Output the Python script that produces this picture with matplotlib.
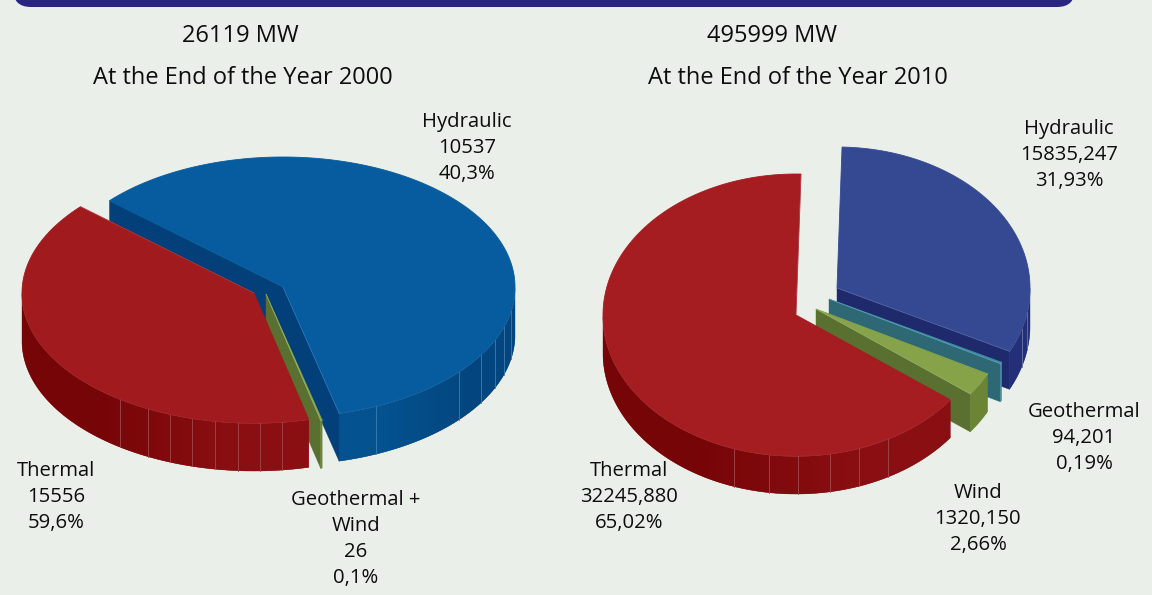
import numpy as np
import matplotlib.pyplot as plt
from matplotlib.colors import to_rgb
from matplotlib.patches import FancyBboxPatch

plt.rcParams['font.family'] = ['Open Sans', 'DejaVu Sans']

# 図の中の値 (描画順: 青 -> 緑 -> 赤, 2000年は元図の通りラベルと色が逆)
values_2000 = [15556, 26, 10537]
values_2010 = [15835.247, 94.201, 1320.150, 32245.880]

title_2000 = ["26119 MW", "At the End of the Year 2000"]
title_2010 = ["495999 MW", "At the End of the Year 2010"]

labels_2000 = ["Hydraulic\n10537\n40,3%", "Thermal\n15556\n59,6%", "Geothermal +\nWind\n26\n0,1%"]
labels_2010 = ["Hydraulic\n15835,247\n31,93%", "Thermal\n32245,880\n65,02%", "Wind\n1320,150\n2,66%", "Geothermal\n94,201\n0,19%"]

BG = "#eaefea"
BAND = "#2a2580"
RIM = "#ffffff"
TXT = "#0d0d0d"


def ell(cx, cy, rx, ry, deg):
    t = np.radians(deg)
    return cx + rx * np.cos(t), cy - ry * np.sin(t)


def draw_slice(ax, cx, cy, rx, ry, depth, a0, a1, top, side, cut, facets, facet_col):
    # a0 -> a1 は時計回り (a0 > a1)
    ts = np.linspace(a0, a1, 240)
    xs, ys = ell(cx, cy, rx, ry, ts)

    # 切り口 (見える面だけ)
    if np.cos(np.radians(a0)) < 0:
        ax.fill([cx, xs[0], xs[0], cx], [cy, ys[0], ys[0] + depth, cy + depth], color=cut, lw=0.3, zorder=2)
    if np.cos(np.radians(a1)) > 0.1:
        ax.fill([cx, xs[-1], xs[-1], cx], [cy, ys[-1], ys[-1] + depth, cy + depth], color=cut, lw=0.3, zorder=2)

    # 外周の側面 (手前側のみ), 左右で少し色を変える
    low = np.sin(np.radians(ts)) <= 0
    if low.any():
        lx, ly = xs[low], ys[low]
        poly = ax.fill(np.r_[lx, lx[::-1]], np.r_[ly, ly[::-1] + depth], color=side[1], lw=0.3, zorder=2)[0]
        grad = np.array([[to_rgb(side[0]), to_rgb(side[1])]])
        im = ax.imshow(grad, extent=(lx.min(), lx.max(), ly.max() + depth, ly.min()), aspect="auto",
                       interpolation="bilinear", zorder=2)
        im.set_clip_path(poly)
        for f in facets:
            if a1 <= f <= a0 or a1 <= f - 360 <= a0:
                fa = f if a1 <= f <= a0 else f - 360
                fx, fy = ell(cx, cy, rx, ry, fa)
                ax.plot([fx, fx], [fy, fy + depth], color=facet_col, lw=0.6, zorder=2)
        ax.plot(lx, ly, color=RIM, lw=0.7, alpha=0.35, zorder=2)

    # 上面
    ax.fill(np.r_[cx, xs], np.r_[cy, ys], fc=top, ec=top, lw=0.6, zorder=2)
    ax.plot([cx, xs[-1]], [cy, ys[-1]], color=RIM, lw=0.4, alpha=0.2, zorder=2)


def draw_pie(ax, values, start, center, radii, depth, explode, styles):
    total = sum(values)
    a0 = start
    for v, off, st in zip(values, explode, styles):
        a1 = a0 - v / total * 360
        draw_slice(ax, center[0] + off[0], center[1] + off[1], radii[0], radii[1], depth, a0, a1, *st)
        a0 = a1


fig = plt.figure(figsize=(11.52, 5.95), dpi=100, facecolor=BG)
ax = fig.add_axes([0, 0, 1, 1])

# 上の帯
ax.add_patch(FancyBboxPatch((13, -40), 1062, 47, boxstyle="round,pad=0,rounding_size=18", fc=BAND, ec="none"))

facet_blue = [-66.4, -40.6, -31.5, -24, -17.7, -10.6]
facet_red = [-83, -88.5, -94, -99.7, -105.6, -111.3, -117.3, -125.4]
styles_2000 = [
    ("#075ca0", ("#04528f", "#03467f"), "#03407a", facet_blue, "#3f7cae"),
    ("#86a34a", ("#6c8535", "#6c8535"), "#5a7030", [], "#a0b070"),
    ("#a01a1e", ("#760507", "#8a0f13"), "#8a0f13", facet_red, "#a0494c"),
]
draw_pie(ax, values_2000, 138.4, (268, 290), (232, 130), 48,
         [(15, -3), (-2, 4), (-14, 3)], styles_2000)

facet_blue2 = [-17, -10]
facet_red2 = [-61.5, -71, -80, -89.4, -98, -108.7]
styles_2010 = [
    ("#354993", ("#232f78", "#232f78"), "#1f2a6c", facet_blue2, "#6a76a8"),
    ("#3d8fa3", ("#4d8fa0", "#4d8fa0"), "#2d6874", [], "#80b0c0"),
    ("#86a34a", ("#6c8535", "#6c8535"), "#5a7030", [], "#a0b070"),
    ("#a51c21", ("#760507", "#8a0f13"), "#8a0f13", facet_red2, "#a0494c"),
]
draw_pie(ax, values_2010, 88.5, (797, 317), (193, 141), 38,
         [(40, -29), (32, -18), (19, -8), (-1, -2)], styles_2010)

ax.set_xlim(0, 1152)
ax.set_ylim(595, 0)
ax.axis("off")

# 文字
fs = 14.6
tfs = 17
ax.text(240, 36, title_2000[0], ha="center", va="center", fontsize=tfs, color=TXT)
ax.text(243, 78, title_2000[1], ha="center", va="center", fontsize=tfs, color=TXT)
ax.text(772, 36, title_2010[0], ha="center", va="center", fontsize=tfs, color=TXT)
ax.text(798, 78, title_2010[1], ha="center", va="center", fontsize=tfs, color=TXT)

for (x, y), s in zip([(467, 148), (56, 497), (356, 539)], labels_2000):
    ax.text(x, y, s, ha="center", va="center", fontsize=fs, color=TXT, linespacing=1.4)
for (x, y), s in zip([(1069, 155), (629, 497), (978, 519), (1084, 438)], labels_2010):
    ax.text(x, y, s, ha="center", va="center", fontsize=fs, color=TXT, linespacing=1.4)

fig.savefig("out.png", dpi=100, facecolor=BG)
